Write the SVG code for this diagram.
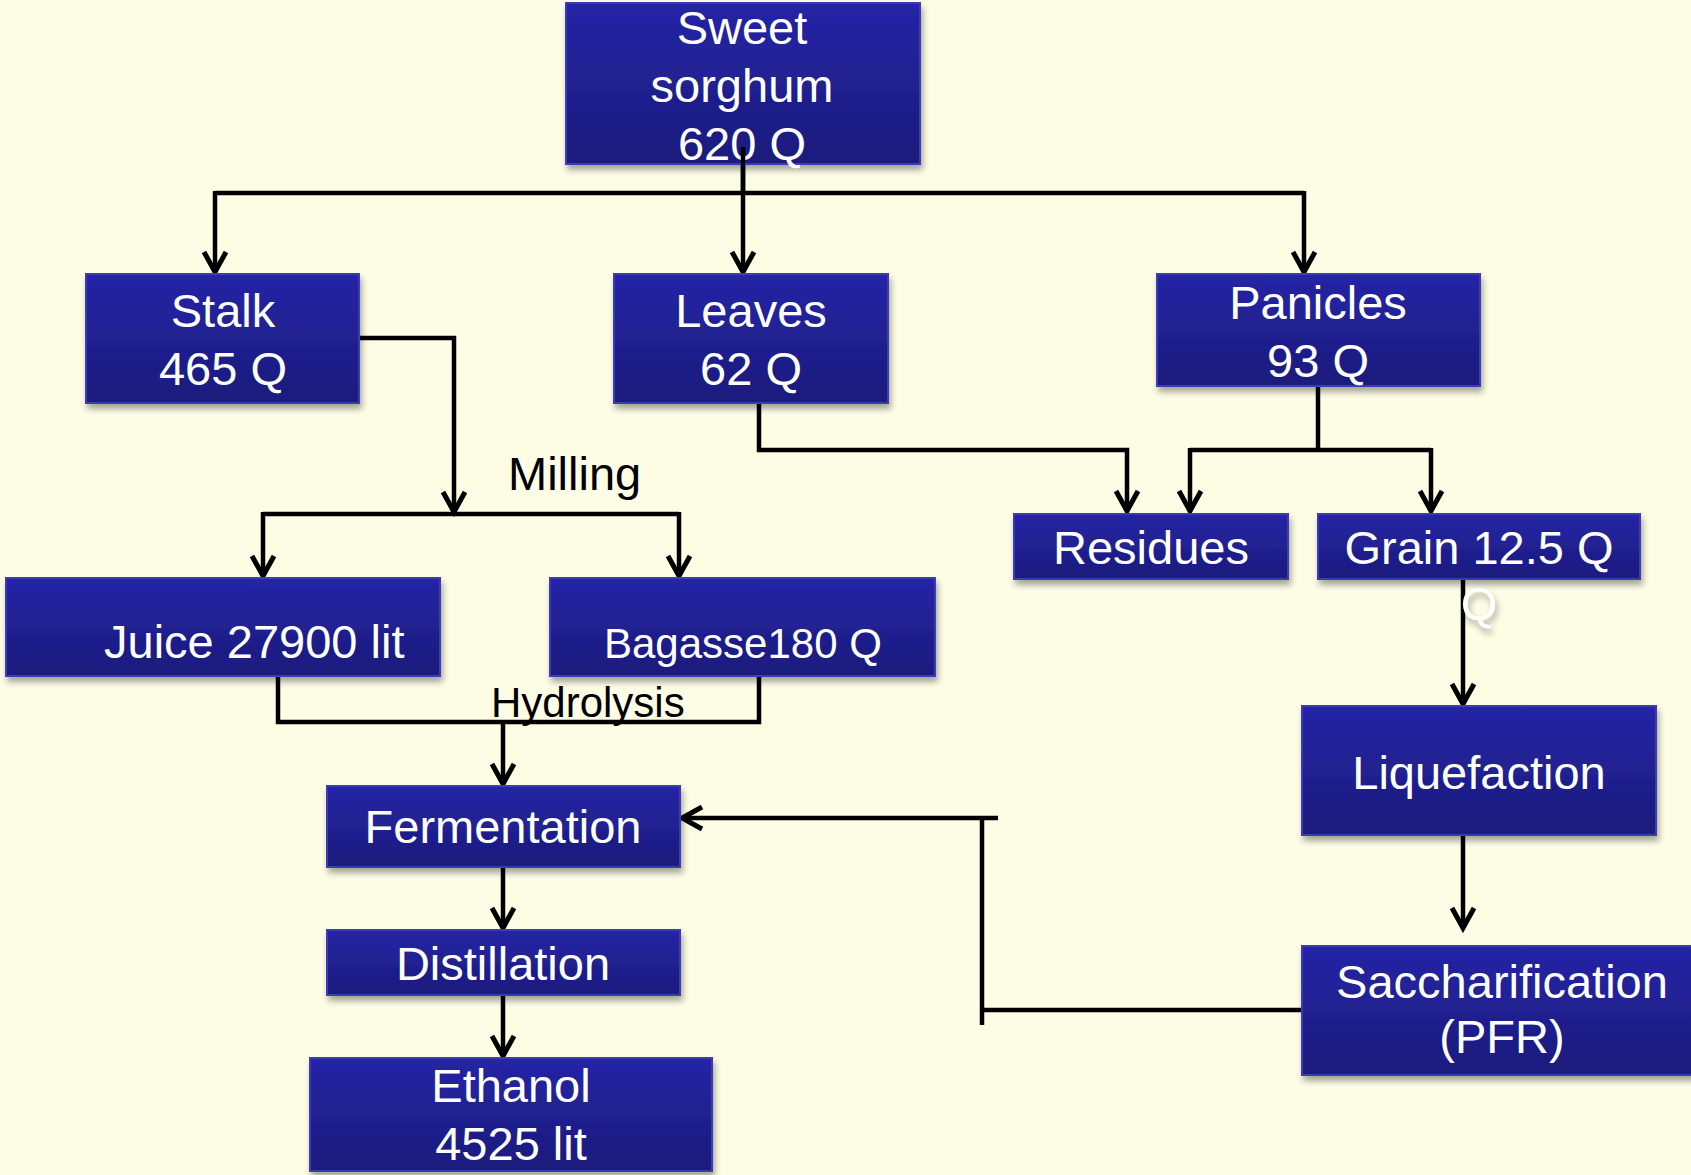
<svg xmlns="http://www.w3.org/2000/svg" width="1691" height="1175" viewBox="0 0 1691 1175">
<defs>
<linearGradient id="boxg" x1="0" y1="0" x2="0" y2="1">
<stop offset="0" stop-color="#2525A6"/>
<stop offset="1" stop-color="#1B1B7C"/>
</linearGradient>
<filter id="sh" x="-10%" y="-10%" width="125%" height="135%">
<feGaussianBlur in="SourceAlpha" stdDeviation="3"/>
<feOffset dx="2" dy="5" result="b"/>
<feComponentTransfer><feFuncA type="linear" slope="0.35"/></feComponentTransfer>
<feMerge><feMergeNode/><feMergeNode in="SourceGraphic"/></feMerge>
</filter>
<marker id="arr" markerUnits="userSpaceOnUse" markerWidth="30" markerHeight="30" viewBox="-25 -15 30 30" refX="0" refY="0" orient="auto">
<path d="M-20,-11 L0,0 L-20,11" fill="none" stroke="#000" stroke-width="5"/>
</marker>
</defs>
<style>
.box{fill:url(#boxg);stroke:#3B3BB8;stroke-width:2;filter:url(#sh)}
.t{font-family:"Liberation Sans",Arial,sans-serif;font-size:47px;fill:#fff;text-anchor:middle}
.ts{font-family:"Liberation Sans",Arial,sans-serif;font-size:42px;fill:#fff}
.lbl{font-family:"Liberation Sans",Arial,sans-serif;fill:#000}
.ln{fill:none;stroke:#000;stroke-width:4.5}
</style>
<rect x="0" y="0" width="1691" height="1175" fill="#FDFDE6"/>

<g id="connectors">
<line class="ln" x1="215" y1="193" x2="1304" y2="193"/>
<line class="ln" x1="215" y1="191" x2="215" y2="272" marker-end="url(#arr)"/>
<line class="ln" x1="1304" y1="191" x2="1304" y2="272" marker-end="url(#arr)"/>
<line class="ln" x1="743" y1="147" x2="743" y2="272" marker-end="url(#arr)"/>
<polyline class="ln" points="359,338 454,338 454,512" marker-end="url(#arr)"/>
<line class="ln" x1="263" y1="514" x2="679" y2="514"/>
<line class="ln" x1="263" y1="512" x2="263" y2="576" marker-end="url(#arr)"/>
<line class="ln" x1="679" y1="512" x2="679" y2="576" marker-end="url(#arr)"/>
<polyline class="ln" points="759,403 759,450 1127,450 1127,511" marker-end="url(#arr)"/>
<line class="ln" x1="1318" y1="386" x2="1318" y2="450"/>
<line class="ln" x1="1190" y1="450" x2="1431" y2="450"/>
<line class="ln" x1="1190" y1="448" x2="1190" y2="511" marker-end="url(#arr)"/>
<line class="ln" x1="1431" y1="448" x2="1431" y2="511" marker-end="url(#arr)"/>
<polyline class="ln" points="278,676 278,722 759,722 759,676"/>
<line class="ln" x1="503" y1="722" x2="503" y2="784" marker-end="url(#arr)"/>
<line class="ln" x1="503" y1="867" x2="503" y2="928" marker-end="url(#arr)"/>
<line class="ln" x1="503" y1="995" x2="503" y2="1056" marker-end="url(#arr)"/>
<line class="ln" x1="1463" y1="579" x2="1463" y2="704" marker-end="url(#arr)"/>
<line class="ln" x1="1463" y1="835" x2="1463" y2="928" marker-end="url(#arr)"/>
<line class="ln" x1="998" y1="818" x2="682" y2="818" marker-end="url(#arr)"/>
<line class="ln" x1="982" y1="818" x2="982" y2="1025"/>
<line class="ln" x1="982" y1="1010" x2="1302" y2="1010"/>
</g>

<g id="n-sweet"><rect class="box" x="566" y="3" width="354" height="161"/>
<text class="t" x="742" y="44">Sweet</text><text class="t" x="742" y="102">sorghum</text><text class="t" x="742" y="160">620 Q</text></g>
<line class="ln" x1="743" y1="147" x2="743" y2="193"/>

<g id="n-stalk"><rect class="box" x="86" y="274" width="273" height="129"/>
<text class="t" x="223" y="327">Stalk</text><text class="t" x="223" y="385">465 Q</text></g>
<g id="n-leaves"><rect class="box" x="614" y="274" width="274" height="129"/>
<text class="t" x="751" y="327">Leaves</text><text class="t" x="751" y="385">62 Q</text></g>
<g id="n-panicles"><rect class="box" x="1157" y="274" width="323" height="112"/>
<text class="t" x="1318" y="319">Panicles</text><text class="t" x="1318" y="377">93 Q</text></g>
<g id="n-residues"><rect class="box" x="1014" y="514" width="274" height="65"/>
<text class="t" x="1151" y="564">Residues</text></g>
<g id="n-grain"><rect class="box" x="1318" y="514" width="322" height="65"/>
<text class="t" x="1479" y="564">Grain 12.5 Q</text></g>
<text class="t" x="1479" y="620" style="text-anchor:middle" filter="url(#sh)">Q</text>
<g id="n-juice"><rect class="box" x="6" y="578" width="434" height="98"/>
<text class="t" x="104" y="658" style="text-anchor:start">Juice 27900 lit</text></g>
<g id="n-bagasse"><rect class="box" x="550" y="578" width="385" height="98"/>
<text class="ts" x="604" y="658">Bagasse180 Q</text></g>
<g id="n-liquefaction"><rect class="box" x="1302" y="706" width="354" height="129"/>
<text class="t" x="1479" y="789">Liquefaction</text></g>
<g id="n-fermentation"><rect class="box" x="327" y="786" width="353" height="81"/>
<text class="t" x="503" y="843">Fermentation</text></g>
<g id="n-distillation"><rect class="box" x="327" y="930" width="353" height="65"/>
<text class="t" x="503" y="980">Distillation</text></g>
<g id="n-ethanol"><rect class="box" x="310" y="1058" width="402" height="113"/>
<text class="t" x="511" y="1102">Ethanol</text><text class="t" x="511" y="1160">4525 lit</text></g>
<g id="n-sacch"><rect class="box" x="1302" y="946" width="400" height="129"/>
<text class="t" x="1502" y="998">Saccharification</text><text class="t" x="1502" y="1053">(PFR)</text></g>

<text class="lbl" x="508" y="490" font-size="47">Milling</text>
<text class="lbl" x="491" y="717" font-size="42">Hydrolysis</text>
</svg>
